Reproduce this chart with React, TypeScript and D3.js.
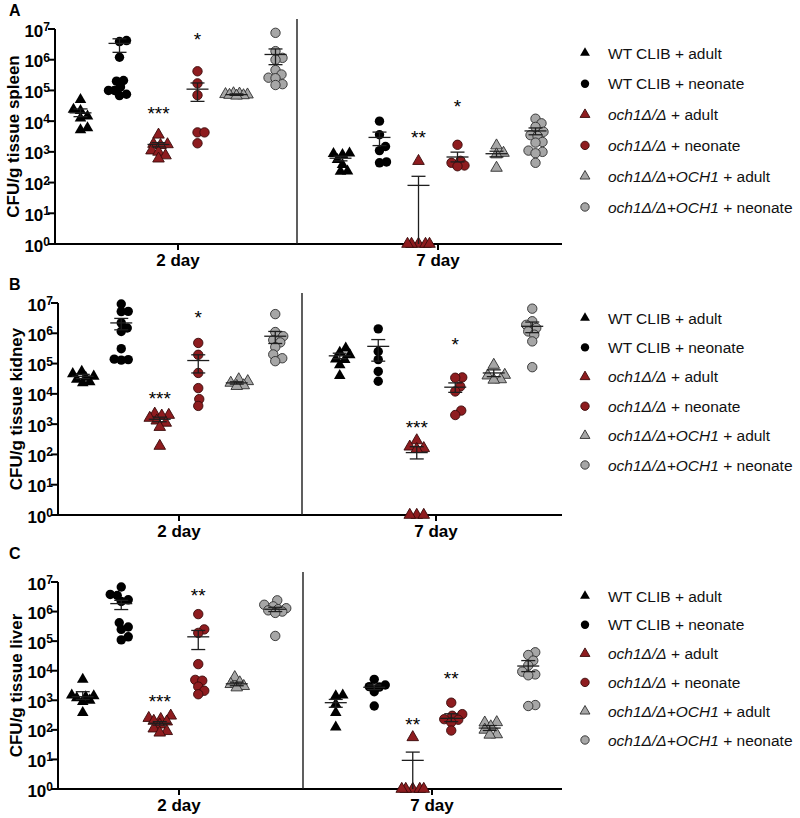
import React from 'react';
import * as d3 from 'd3';

// legend text, [text, italic] pieces
const legendLabels: [string, boolean][][] = [
  [['WT CLIB + adult', false]],
  [['WT CLIB + neonate', false]],
  [['och1Δ/Δ', true], [' + adult', false]],
  [['och1Δ/Δ', true], [' + neonate', false]],
  [['och1Δ/Δ+OCH1', true], [' + adult', false]],
  [['och1Δ/Δ+OCH1', true], [' + neonate', false]],
];
const days = ['2 day', '7 day'];
const exponents = [0, 1, 2, 3, 4, 5, 6, 7];

// ---- spleen (A) ----
const spleenDay2 = [
  [5.0e4, 2.4e4, 2.2e4, 1.45e4, 1.25e4, 6.0e3, 5.2e3],
  [4.2e6, 3.9e6, 1.2e6, 2.1e5, 2.0e5, 1.3e5, 1.0e5, 1.0e5, 7.5e4, 6.8e4],
  [3.6e3, 1.8e3, 1.75e3, 1.65e3, 1.1e3, 1.0e3, 7.6e2, 6.0e2],
  [4.2e5, 1.7e5, 7.0e4, 4.3e3, 4.3e3, 1.9e3],
  [8.0e4, 7.8e4, 7.5e4, 7.3e4, 7.1e4, 6.9e4, 6.7e4],
  [7.5e6, 1.9e6, 1.15e6, 1.0e6, 4.6e5, 3.3e5, 2.6e5, 2.5e5, 1.6e5, 1.5e5],
];
const spleenDay7 = [
  [9.1e2, 8.7e2, 8.1e2, 5.6e2, 3.8e2, 2.35e2, 2.3e2],
  [1.0e4, 3.6e3, 1.5e3, 1.1e3, 4.7e2, 4.4e2],
  [5.0e2, 1, 1, 1, 1, 1],
  [1.7e3, 5.1e2, 4.4e2, 3.6e2, 3.4e2],
  [1.6e3, 9.2e2, 8.2e2, 3.0e2],
  [1.2e4, 8.5e3, 6.5e3, 4.5e3, 3.5e3, 3.3e3, 2.1e3, 2.0e3, 1.1e3, 1.0e3, 9.0e2, 4.4e2],
];
// [mean, lower SEM, upper SEM]
const spleenStats2 = [
  [1.86e4, 1.4e4, 2.5e4], [3.4e6, 1.74e6, 4.8e6], [1.74e3, 1.45e3, 2.0e3],
  [1.1e5, 4.4e4, 1.75e5], [7.3e4, 6.9e4, 7.7e4], [1.48e6, 6.9e5, 2.24e6],
];
const spleenStats7 = [
  [6.2e2, 5.1e2, 7.2e2], [2.95e3, 1.6e3, 4.4e3], [81, 0, 160],
  [6.8e2, 4.7e2, 9.8e2], [8.7e2, 6.9e2, 1.05e3], [4.8e3, 3.6e3, 6.0e3],
];
// [day, group, text, value at star centre]
const spleenStars: [number, number, string, number][] = [
  [0, 2, '***', 2.4e4], [0, 3, '*', 6.6e6], [1, 2, '**', 4.1e3], [1, 3, '*', 4.2e4],
];

// ---- kidney (B) ----
const kidneyDay2 = [
  [5.5e4, 4.6e4, 3.8e4, 3.5e4, 3.0e4, 2.5e4, 2.3e4],
  [9.3e6, 5.3e6, 5.2e6, 2.2e6, 1.5e6, 1.15e6, 3.1e5, 1.4e5, 1.35e5, 1.3e5],
  [2.2e3, 2.0e3, 1.9e3, 1.6e3, 1.3e3, 1.1e3, 8.0e2, 1.9e2],
  [4.8e5, 1.95e5, 4.9e4, 1.55e4, 6.7e3, 4.0e3],
  [3.0e4, 2.6e4, 2.3e4, 1.9e4, 1.8e4],
  [4.3e6, 1.1e6, 8.0e5, 6.0e5, 5.0e5, 3.5e5, 2.0e5, 1.5e5, 1.2e5],
];
const kidneyDay7 = [
  [3.2e5, 2.35e5, 1.95e5, 1.4e5, 1.35e5, 9.0e4, 4.0e4],
  [1.4e6, 2.5e5, 1.35e5, 5.5e4, 2.6e4],
  [2.9e2, 1.8e2, 1.6e2, 1.5e2, 1, 1, 1],
  [3.5e4, 3.4e4, 1.75e4, 1.2e4, 2.8e3, 2.0e3],
  [9.0e4, 4.2e4, 4.0e4, 3.0e4, 2.9e4],
  [6.5e6, 2.5e6, 1.9e6, 1.5e6, 1.15e6, 9.0e5, 5.4e5, 7.6e4],
];
const kidneyStats2 = [
  [3.8e4, 3.2e4, 4.4e4], [2.2e6, 1.3e6, 3.1e6], [1.45e3, 1.2e3, 1.7e3],
  [1.26e5, 4.9e4, 1.95e5], [2.3e4, 2.1e4, 2.5e4], [8.0e5, 4.6e5, 1.15e6],
];
const kidneyStats7 = [
  [1.8e5, 1.45e5, 2.2e5], [3.7e5, 1.2e5, 6.2e5], [1.15e2, 7.1e1, 1.8e2],
  [1.66e4, 1.12e4, 2.3e4], [4.9e4, 3.7e4, 6.2e4], [1.7e6, 1.05e6, 2.35e6],
];
const kidneyStars: [number, number, string, number][] = [
  [0, 2, '***', 9.8e3], [0, 3, '*', 4.7e6], [1, 2, '***', 1.12e3], [1, 3, '*', 5.9e5],
];

// ---- liver (C) ----
const liverDay2 = [
  [5.1e3, 1.5e3, 1.4e3, 1.3e3, 1.2e3, 1.0e3, 9.0e2, 3.8e2],
  [6.8e6, 3.8e6, 3.5e6, 2.5e6, 2.2e6, 4.2e5, 3.0e5, 2.5e5, 1.4e5, 1.1e5],
  [3.0e2, 2.5e2, 2.3e2, 2.0e2, 1.9e2, 1.5e2, 1.1e2, 9.0e1, 8.0e1],
  [8.2e5, 2.5e5, 1.9e5, 1.67e4, 4.9e3, 4.6e3, 2.9e3, 2.1e3, 1.6e3],
  [6.0e3, 4.0e3, 3.5e3, 3.0e3, 2.7e3],
  [2.4e6, 1.7e6, 1.5e6, 1.3e6, 1.2e6, 1.1e6, 1.0e6, 9.0e5, 1.5e5],
];
const liverDay7 = [
  [1.5e3, 1.4e3, 7.4e2, 3.8e2, 1.23e2],
  [5.1e3, 3.3e3, 2.9e3, 2.8e3, 1.95e3, 6.4e2],
  [56, 1, 1, 1, 1, 1],
  [8.3e2, 3.4e2, 3.0e2, 2.3e2, 2.2e2, 1.8e2, 9.5e1],
  [1.8e2, 1.75e2, 1.3e2, 1.0e2, 7.0e1, 6.8e1],
  [4.2e4, 3.4e4, 2.2e4, 1.5e4, 9.3e3, 7.5e3, 7.0e3, 6.9e2, 6.4e2],
];
const liverStats2 = [
  [1.32e3, 1.07e3, 1.95e3], [1.86e6, 1.17e6, 2.4e6], [1.67e2, 1.45e2, 1.9e2],
  [1.4e5, 5.2e4, 2.3e5], [3.6e3, 3.1e3, 4.1e3], [1.2e6, 1.0e6, 1.4e6],
];
const liverStats7 = [
  [8.3e2, 5.8e2, 1.07e3], [2.75e3, 2.3e3, 3.3e3], [9.3, 0, 17.7],
  [2.45e2, 1.9e2, 3.5e2], [1.15e2, 9.5e1, 1.4e2], [1.44e4, 9.3e3, 2.2e4],
];
const liverStars: [number, number, string, number][] = [
  [0, 2, '***', 1.3e3], [0, 3, '**', 5.0e6], [1, 2, '**', 2.2e2], [1, 3, '**', 7.8e3],
];

// marker style per group
const groupShape = ['triangle', 'circle', 'triangle', 'circle', 'triangle', 'circle'];
const groupFill = ['#000000', '#000000', '#8e1c1f', '#8e1c1f', '#a6a6a6', '#a6a6a6'];
const groupStroke = ['#000000', '#000000', '#3a0b0b', '#3a0b0b', '#2e2e2e', '#2e2e2e'];

const panels = [
  { letter: 'A', label: 'CFU/g tissue spleen', data: [spleenDay2, spleenDay7], stats: [spleenStats2, spleenStats7], stars: spleenStars,
    x0: 55, x1: 562, yTop: 29, yBot: 244, sep: 297, dayX: [178, 438], step: 39, letterY: 16, legendY: 53, legendStep: 30.8 },
  { letter: 'B', label: 'CFU/g tissue kidney', data: [kidneyDay2, kidneyDay7], stats: [kidneyStats2, kidneyStats7], stars: kidneyStars,
    x0: 58, x1: 562, yTop: 303, yBot: 515, sep: 302, dayX: [179, 436], step: 38.5, letterY: 290, legendY: 318, legendStep: 29.4 },
  { letter: 'C', label: 'CFU/g tissue liver', data: [liverDay2, liverDay7], stats: [liverStats2, liverStats7], stars: liverStars,
    x0: 58, x1: 562, yTop: 582, yBot: 789, sep: 303, dayX: [179, 432], step: 38.5, letterY: 559, legendY: 596, legendStep: 28.8 },
];

const FONT = "Arial, 'Liberation Sans', Helvetica, sans-serif";
const triPath = d3.symbol().type(d3.symbolTriangle).size(58)() as string;
const triPathSmall = d3.symbol().type(d3.symbolTriangle).size(42)() as string;

// simple beeswarm: horizontal offsets so markers at similar heights sit side by side
function swarm(ys: number[], minD = 6.8, maxOff = 11) {
  const order = ys.map((_, i) => i).sort((a, b) => ys[b] - ys[a]);
  const placed: { x: number; y: number }[] = [];
  const out = new Array(ys.length).fill(0);
  for (const i of order) {
    let best = 0, bestD = -1;
    for (let k = 0; k <= maxOff * 2; k++) {
      const off = k === 0 ? 0 : (k % 2 ? (k + 1) / 2 : -k / 2);
      let d = Infinity;
      for (const p of placed) d = Math.min(d, Math.hypot(p.x - off, p.y - ys[i]));
      if (d >= minD) { best = off; bestD = d; break; }
      if (d > bestD) { bestD = d; best = off; }
    }
    out[i] = best;
    placed.push({ x: best, y: ys[i] });
  }
  return out;
}

function Marker({ g, x, y, small }: { g: number; x: number; y: number; small?: boolean }) {
  const sw = groupFill[g] === '#000000' ? 0 : 0.9;
  if (groupShape[g] === 'triangle') {
    return <path d={small ? triPathSmall : triPath} transform={`translate(${x},${y})`} fill={groupFill[g]} stroke={groupStroke[g]} strokeWidth={sw} />;
  }
  return <circle cx={x} cy={y} r={small ? 4.2 : 4.7} fill={groupFill[g]} stroke={groupStroke[g]} strokeWidth={sw} />;
}

function Panel({ p }: { p: typeof panels[number] }) {
  const y = d3.scaleLog().domain([1, 1e7]).range([p.yBot, p.yTop]);
  const sy = (v: number) => y(Math.max(v, 1));
  const gx = (day: number) => d3.scalePoint<number>().domain([0, 1, 2, 3, 4, 5])
    .range([p.dayX[day] - 2.5 * p.step, p.dayX[day] + 2.5 * p.step]);

  return (
    <g>
      <text x={9} y={p.letterY} fontFamily={FONT} fontWeight="bold" fontSize={16}>{p.letter}</text>
      <text transform={`translate(${p.x0 - 36},${(p.yTop + p.yBot) / 2}) rotate(-90)`} textAnchor="middle"
        fontFamily={FONT} fontWeight="bold" fontSize={17}>{p.label}</text>

      {/* y axis */}
      <line x1={p.x0} x2={p.x0} y1={p.yTop} y2={p.yBot + 1} stroke="#000" strokeWidth={2} />
      {exponents.map(e => (
        <g key={e}>
          <line x1={p.x0 - 7} x2={p.x0} y1={y(10 ** e)} y2={y(10 ** e)} stroke="#000" strokeWidth={2} />
          <text x={p.x0 - 5} y={y(10 ** e) + 7.5} textAnchor="end" fontFamily={FONT} fontWeight="bold" fontSize={17}>
            10<tspan dy={-5.5} fontSize={12}>{e}</tspan>
          </text>
        </g>
      ))}

      {/* x axis */}
      <line x1={p.x0 - 1} x2={p.x1} y1={p.yBot} y2={p.yBot} stroke="#000" strokeWidth={2} />
      <line x1={p.sep} x2={p.sep} y1={p.yTop - 10} y2={p.yBot} stroke="#1a1a1a" strokeWidth={1.4} />
      {days.map((d, i) => (
        <g key={d}>
          <line x1={p.dayX[i]} x2={p.dayX[i]} y1={p.yBot} y2={p.yBot + 6} stroke="#000" strokeWidth={2} />
          <text x={p.dayX[i]} y={p.yBot + 22} textAnchor="middle" fontFamily={FONT} fontWeight="bold" fontSize={17}>{d}</text>
        </g>
      ))}

      {/* points */}
      {p.data.map((groups, day) => groups.map((vals, g) => {
        const cx = gx(day)(g) as number;
        const ys = vals.map(sy);
        const offs = swarm(ys);
        return (
          <g key={`${day}-${g}`}>
            {vals.map((v, k) => <Marker key={k} g={g} x={cx + offs[k]} y={ys[k]} />)}
          </g>
        );
      }))}

      {/* mean +/- SEM */}
      {p.stats.map((groups, day) => groups.map(([m, lo, hi], g) => {
        const cx = gx(day)(g) as number;
        return (
          <g key={`e${day}-${g}`} stroke="#1e1e1e" strokeWidth={1.3}>
            <line x1={cx} x2={cx} y1={sy(hi)} y2={sy(lo)} />
            <line x1={cx - 7} x2={cx + 7} y1={sy(hi)} y2={sy(hi)} />
            {lo > 1 && <line x1={cx - 7} x2={cx + 7} y1={sy(lo)} y2={sy(lo)} />}
            <line x1={cx - 11} x2={cx + 11} y1={sy(m)} y2={sy(m)} />
          </g>
        );
      }))}

      {/* significance */}
      {p.stars.map(([day, g, t, v], i) => (
        <text key={i} x={gx(day)(g) as number} y={sy(v) + 11} textAnchor="middle" fontFamily={FONT} fontSize={19}>{t}</text>
      ))}

      {/* legend */}
      {legendLabels.map((parts, g) => {
        const ly = p.legendY + g * p.legendStep;
        return (
          <g key={g}>
            <Marker g={g} x={585} y={ly} small />
            <text x={608} y={ly + 5.5} fontFamily={FONT} fontSize={15.5} fill="#111">
              {parts.map(([t, it], k) => <tspan key={k} fontStyle={it ? 'italic' : 'normal'}>{t}</tspan>)}
            </text>
          </g>
        );
      })}
    </g>
  );
}

export default function App() {
  return (
    <div style={{ position: 'absolute', left: 0, top: 0 }}>
      <svg width={800} height={818} style={{ display: 'block', background: '#fff' }}>
        {panels.map(p => <Panel key={p.letter} p={p} />)}
      </svg>
    </div>
  );
}
